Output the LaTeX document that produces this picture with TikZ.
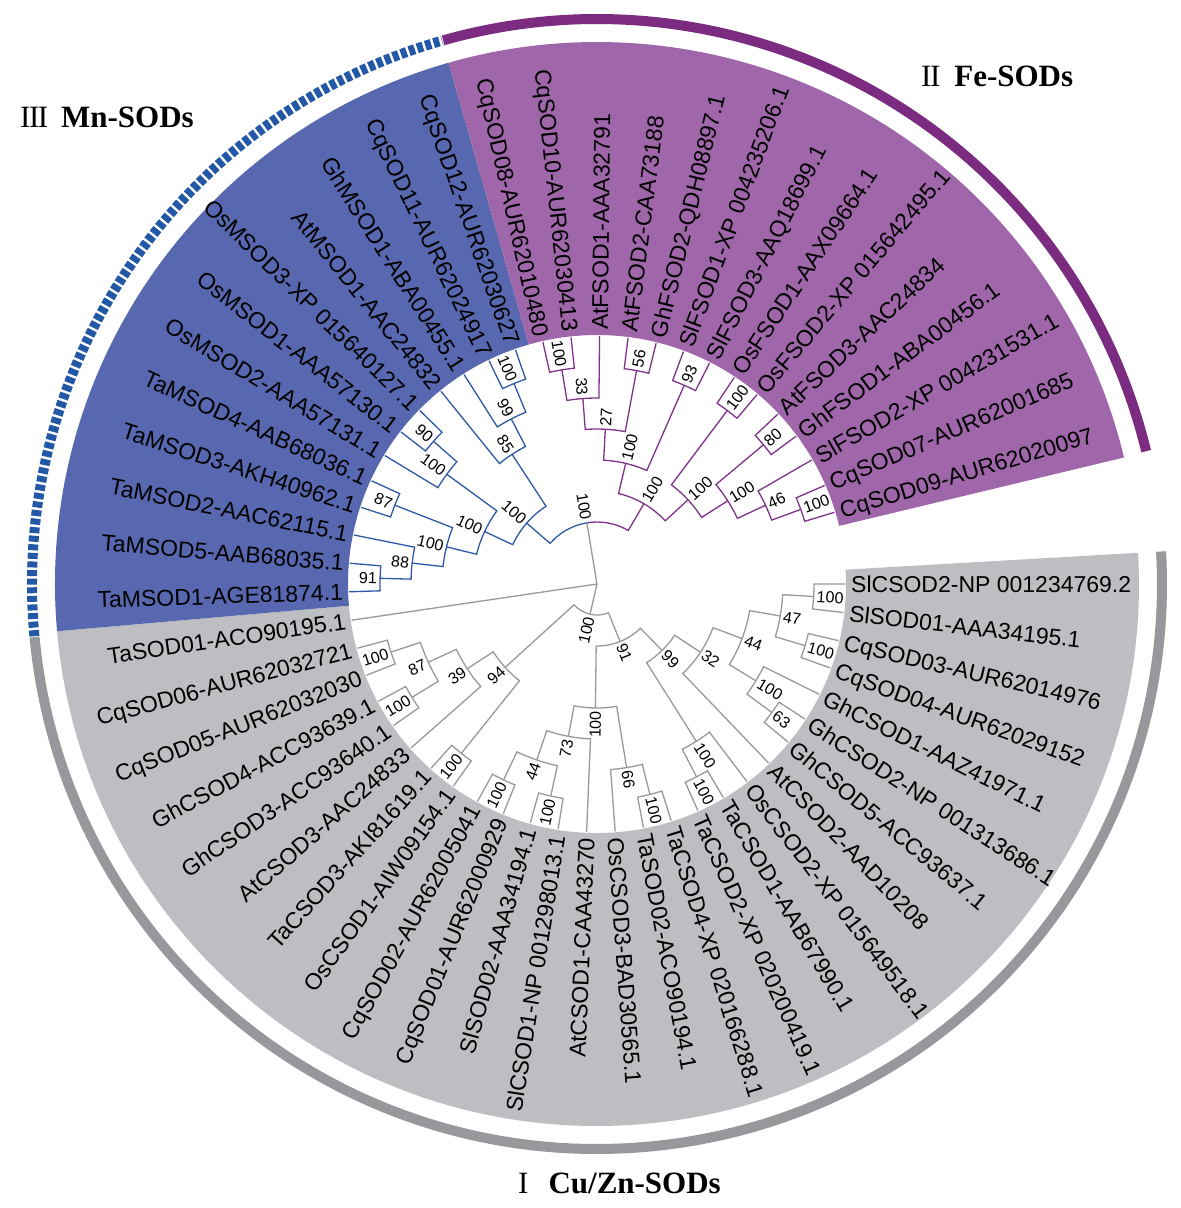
\documentclass[tikz,border=0pt]{standalone}
\usepackage{fontspec}
\setmainfont{Liberation Sans}
\newfontfamily\titlefont{Liberation Serif}
\definecolor{bfill}{HTML}{5768B0}
\definecolor{pfill}{HTML}{A066AA}
\definecolor{gfill}{HTML}{BDBEC2}
\definecolor{bline}{HTML}{2F58A5}
\definecolor{pline}{HTML}{7E3389}
\definecolor{gline}{HTML}{999999}
\definecolor{bband}{HTML}{2358A6}
\definecolor{pband}{HTML}{7B2C80}
\definecolor{gband}{HTML}{97989C}
\tikzset{
  leaflab/.style={font=\fontsize{23}{23}\selectfont, inner sep=0pt, text height=16.5pt, text depth=0pt},
  bslab/.style={font=\fontsize{16}{16}\selectfont, inner sep=0pt, text height=11.5pt, text depth=0pt},
  br/.style={line width=1.3pt, line join=miter},
  band/.style={line width=10pt},
  ttl/.style={anchor=west, inner sep=0pt, font=\titlefont\fontsize{31}{31}\selectfont}
}
% radial label: #1 name, #2 angle, #3 radius, #4 style, #5 text
\newcommand\rlabel[5]{%
  \pgfmathsetmacro\rlc{cos(#2)}%
  \ifdim\rlc pt<0pt
    \pgfmathsetmacro\rla{#2+180}%
    \node[#4,anchor=east,rotate=\rla] (#1) at (#2:#3pt) {#5};%
  \else
    \node[#4,anchor=west,rotate=#2] (#1) at (#2:#3pt) {#5};%
  \fi}
% leaf: #1 index, #2 angle, #3 text
\newcommand\leaf[3]{%
  \coordinate (t#1) at (#2:248pt);%
  \rlabel{L#1}{#2}{254}{leaflab}{#3}}
% clade: #1 name, #2 r, #3 a1, #4 r1, #5 a2, #6 r2, #7 colour, #8 label
\newcommand\clade[8]{%
  \pgfmathsetmacro\cmid{(#3+#5)/2}%
  \coordinate (#1) at (\cmid:#2pt);%
  \draw[br,#7] (#3:#4pt) -- (#3:#2pt) arc[start angle=#3, end angle=#5, radius=#2pt] -- (#5:#6pt);%
  \pgfmathsetmacro\clr{#2+3}%
  \rlabel{#1l}{\cmid}{\clr}{bslab}{#8}}
\begin{document}
\begin{tikzpicture}[x=1pt,y=1pt]
\useasboundingbox (-597,-624) rectangle (584,584);
\fill[white] (-597,-624) rectangle (584,584);
% coloured sectors
\fill[gfill] (3.3:249pt) -- (3.3:542pt) arc[start angle=3.3, end angle=-175, radius=542pt] -- (-175:249pt) arc[start angle=-175, end angle=3.3, radius=249pt] -- cycle;
\fill[bfill] (105.9:249pt) -- (105.9:542pt) arc[start angle=105.9, end angle=185, radius=542pt] -- (185:249pt) arc[start angle=185, end angle=105.9, radius=249pt] -- cycle;
\fill[pfill] (13.5:249pt) -- (13.5:542pt) arc[start angle=13.5, end angle=105.9, radius=542pt] -- (105.9:249pt) arc[start angle=105.9, end angle=13.5, radius=249pt] -- cycle;
% outer bands
\draw[band,gband] (3.3:565pt) arc[start angle=3.3, end angle=-174.6, radius=565pt];
\draw[band,bband,dash pattern=on 6pt off 2.6pt] (185.3:565pt) arc[start angle=185.3, end angle=105.9, radius=565pt];
\draw[band,pband] (105.8:565pt) arc[start angle=105.8, end angle=13.6, radius=565pt];
% leaves
\leaf{0}{0}{SlCSOD2-NP 001234769.2}
\leaf{1}{-6.6}{SlSOD01-AAA34195.1}
\leaf{2}{-13.2}{CqSOD03-AUR62014976}
\leaf{3}{-19.8}{CqSOD04-AUR62029152}
\leaf{4}{-26.4}{GhCSOD1-AAZ41971.1}
\leaf{5}{-33}{GhCSOD2-NP 001313686.1}
\leaf{6}{-39.6}{GhCSOD5-ACC93637.1}
\leaf{7}{-46.2}{AtCSOD2-AAD10208}
\leaf{8}{-52.8}{OsCSOD2-XP 015649518.1}
\leaf{9}{-59.4}{TaCSOD1-AAB67990.1}
\leaf{10}{-66}{TaCSOD2-XP 020200419.1}
\leaf{11}{-72.6}{TaCSOD4-XP 020166288.1}
\leaf{12}{-79.2}{TaSOD02-ACO90194.1}
\leaf{13}{-85.8}{OsCSOD3-BAD30565.1}
\leaf{14}{-92.4}{AtCSOD1-CAA43270}
\leaf{15}{-99}{SlCSOD1-NP 001298013.1}
\leaf{16}{-105.6}{SlSOD02-AAA34194.1}
\leaf{17}{-112.2}{CqSOD01-AUR62000929}
\leaf{18}{-118.8}{CqSOD02-AUR62005041}
\leaf{19}{-125.4}{OsCSOD1-AIW09154.1}
\leaf{20}{-132}{TaCSOD3-AKI81619.1}
\leaf{21}{-138.6}{AtCSOD3-AAC24833}
\leaf{22}{-145.2}{GhCSOD3-ACC93640.1}
\leaf{23}{-151.8}{GhCSOD4-ACC93639.1}
\leaf{24}{-158.4}{CqSOD05-AUR62032030}
\leaf{25}{-165}{CqSOD06-AUR62032721}
\leaf{26}{-171.6}{TaSOD01-ACO90195.1}
\leaf{27}{181.8}{TaMSOD1-AGE81874.1}
\leaf{28}{175.2}{TaMSOD5-AAB68035.1}
\leaf{29}{168.6}{TaMSOD2-AAC62115.1}
\leaf{30}{162}{TaMSOD3-AKH40962.1}
\leaf{31}{155.4}{TaMSOD4-AAB68036.1}
\leaf{32}{148.8}{OsMSOD2-AAA57131.1}
\leaf{33}{142.2}{OsMSOD1-AAA57130.1}
\leaf{34}{135.6}{OsMSOD3-XP 015640127.1}
\leaf{35}{129}{AtMSOD1-AAC24832}
\leaf{36}{122.4}{GhMSOD1-ABA00455.1}
\leaf{37}{115.8}{CqSOD11-AUR62024917}
\leaf{38}{109.2}{CqSOD12-AUR62030627}
\leaf{39}{102.6}{CqSOD08-AUR62010480}
\leaf{40}{96}{CqSOD10-AUR62030413}
\leaf{41}{89.4}{AtFSOD1-AAA32791}
\leaf{42}{82.8}{AtFSOD2-CAA73188}
\leaf{43}{76.2}{GhFSOD2-QDH08897.1}
\leaf{44}{69.6}{SlFSOD1-XP 004235206.1}
\leaf{45}{63}{SlFSOD3-AAQ18699.1}
\leaf{46}{56.4}{OsFSOD1-AAX09664.1}
\leaf{47}{49.8}{OsFSOD2-XP 015642495.1}
\leaf{48}{43.2}{AtFSOD3-AAC24834}
\leaf{49}{36.6}{GhFSOD1-ABA00456.1}
\leaf{50}{30}{SlFSOD2-XP 004231531.1}
\leaf{51}{23.4}{CqSOD07-AUR62001685}
\leaf{52}{16.8}{CqSOD09-AUR62020097}
% Mn-SOD clade
\clade{b91}{217}{181.8}{248}{175.2}{248}{bline}{91}
\clade{b88}{186}{178.5}{217}{168.6}{248}{bline}{88}
\clade{b87}{217}{162}{248}{155.4}{248}{bline}{87}
\clade{b100a}{155}{173.55}{186}{158.7}{217}{bline}{100}
\clade{b90}{217}{142.2}{248}{135.6}{248}{bline}{90}
\clade{b100b}{186}{148.8}{248}{138.9}{217}{bline}{100}
\clade{b100c}{124}{166.125}{155}{143.85}{186}{bline}{100}
\clade{b100d}{217}{115.8}{248}{109.2}{248}{bline}{100}
\clade{b99}{186}{122.4}{248}{112.5}{217}{bline}{99}
\clade{b85}{155}{129}{248}{117.45}{186}{bline}{85}
\clade{broot}{93}{154.9875}{124}{123.225}{155}{bline}{100}
% Fe-SOD clade
\clade{p100a}{217}{102.6}{248}{96}{248}{pline}{100}
\clade{p33}{186}{99.3}{217}{89.4}{248}{pline}{33}
\clade{p56}{217}{82.8}{248}{76.2}{248}{pline}{56}
\clade{p27}{155}{94.35}{186}{79.5}{217}{pline}{27}
\clade{p93}{217}{69.6}{248}{63}{248}{pline}{93}
\clade{p100b}{124}{86.925}{155}{66.3}{217}{pline}{100}
\clade{p100c}{217}{56.4}{248}{49.8}{248}{pline}{100}
\clade{p80}{217}{43.2}{248}{36.6}{248}{pline}{80}
\clade{p100d}{217}{23.4}{248}{16.8}{248}{pline}{100}
\clade{p46}{186}{30}{248}{20.1}{217}{pline}{46}
\clade{p100e}{155}{39.9}{217}{25.05}{186}{pline}{100}
\clade{p100f}{124}{53.1}{217}{32.475}{155}{pline}{100}
\clade{proot}{93}{76.6125}{124}{42.7875}{124}{pline}{100}
% Mn+Fe node
\coordinate (mnfe) at (99.403125:62pt);
\draw[br,bline] (broot) -- (139.10625:62pt) arc[start angle=139.10625, end angle=99.403125, radius=62pt];
\draw[br,pline] (mnfe) arc[start angle=99.403125, end angle=59.7, radius=62pt] -- (proot);
\rlabel{mnfel}{99.403125}{65}{bslab}{100}
% Cu/Zn-SOD clade
\clade{g100a}{217}{0}{248}{-6.6}{248}{gline}{100}
\clade{g100b}{217}{-13.2}{248}{-19.8}{248}{gline}{100}
\clade{g47}{186}{-3.3}{217}{-16.5}{217}{gline}{47}
\clade{g63}{217}{-33}{248}{-39.6}{248}{gline}{63}
\clade{g100c}{186}{-26.4}{248}{-36.3}{217}{gline}{100}
\clade{g44a}{155}{-9.9}{186}{-31.35}{186}{gline}{44}
\clade{g32}{124}{-20.625}{155}{-46.2}{248}{gline}{32}
\clade{g100d}{217}{-59.4}{248}{-66}{248}{gline}{100}
\clade{g100e}{186}{-52.8}{248}{-62.7}{217}{gline}{100}
\clade{g99}{93}{-33.4125}{124}{-57.75}{186}{gline}{99}
\clade{g100f}{217}{-72.6}{248}{-79.2}{248}{gline}{100}
\clade{g66}{186}{-75.9}{217}{-85.8}{248}{gline}{66}
\clade{g100g}{217}{-99}{248}{-105.6}{248}{gline}{100}
\clade{g100h}{217}{-112.2}{248}{-118.8}{248}{gline}{100}
\clade{g44b}{186}{-102.3}{217}{-115.5}{217}{gline}{44}
\clade{g73}{155}{-92.4}{248}{-108.9}{186}{gline}{73}
\clade{g100i}{124}{-80.85}{186}{-100.65}{155}{gline}{100}
\clade{g91}{62}{-45.58125}{93}{-90.75}{124}{gline}{91}
\clade{g100j}{217}{-158.4}{248}{-165}{248}{gline}{100}
\clade{g100k}{217}{-145.2}{248}{-151.8}{248}{gline}{100}
\clade{g87}{186}{-148.5}{217}{-161.7}{217}{gline}{87}
\clade{g39}{155}{-138.6}{248}{-155.1}{186}{gline}{39}
\clade{g100l}{217}{-125.4}{248}{-132}{248}{gline}{100}
\clade{g94}{124}{-128.7}{217}{-146.85}{155}{gline}{94}
\clade{gcuzn}{31}{-68.165625}{62}{-137.775}{124}{gline}{100}
% root
\coordinate (root) at (0,0);
\draw[br,gline] (root) -- (mnfe);
\draw[br,gline] (root) -- (t26);
\draw[br,gline] (root) -- (gcuzn);
% group titles
\node[ttl] (tIII) at (-577,467) {I\kern-1.5ptI\kern-1.5ptI\hspace{13pt}\bfseries Mn-SODs};
\node[ttl] (tII) at (324,508) {I\kern-1.5ptI\hspace{14pt}\bfseries Fe-SODs};
\node[ttl] (tI) at (-79,-599) {I\hspace{20pt}\bfseries Cu/Zn-SODs};
\end{tikzpicture}
\end{document}
